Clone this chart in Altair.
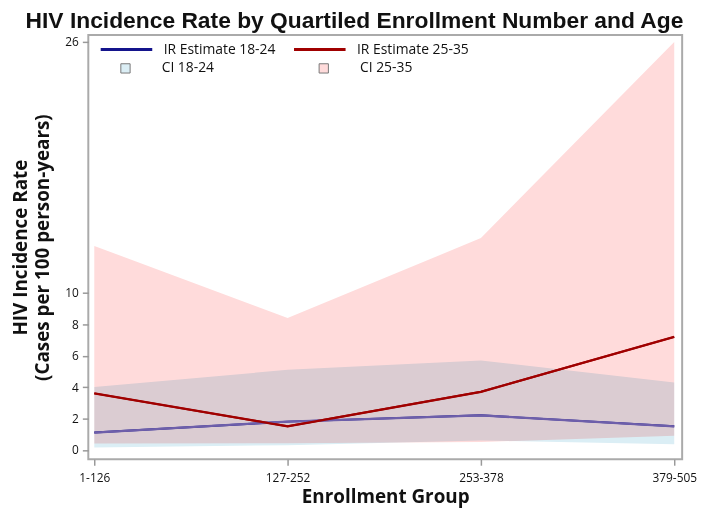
import json
import altair as alt
import pandas as pd

# ---- data ----
groups = ["1-126", "127-252", "253-378", "379-505"]
ir_1824 = [1.1, 1.8, 2.2, 1.5]
ir_2535 = [3.6, 1.5, 3.7, 7.2]
ci_1824_lo = [0.15, 0.3, 0.6, 0.35]
ci_1824_hi = [4.0, 5.1, 5.7, 4.3]
ci_2535_lo = [0.4, 0.42, 0.5, 0.9]
ci_2535_hi = [13.0, 8.4, 13.5, 26.0]
y_ticks = [0, 2, 4, 6, 8, 10, 26]

line_names = ["IR Estimate 18-24", "IR Estimate 25-35"]
ci_names = ["CI 18-24", "CI 25-35"]

idx = list(range(len(groups)))
n = len(groups)
lines = pd.DataFrame({
    "i": idx * 2,
    "group": groups * 2,
    "ir": ir_1824 + ir_2535,
    "series": [line_names[0]] * n + [line_names[1]] * n,
})
bands = pd.DataFrame({
    "i": idx * 2,
    "lo": ci_1824_lo + ci_2535_lo,
    "hi": ci_1824_hi + ci_2535_hi,
    "ci": [ci_names[0]] * n + [ci_names[1]] * n,
})

FONT = "Open Sans"
label_expr = json.dumps(groups) + "[datum.value]"

x_enc = alt.X(
    "i:Q",
    scale=alt.Scale(domain=[-0.031, 3.041], nice=False, zero=False),
    axis=alt.Axis(
        values=idx, labelExpr=label_expr, title="Enrollment Group",
        grid=False, domain=False, tickSize=6, tickColor="#999999", tickWidth=1.5,
        labelFont=FONT, labelFontSize=12, labelColor="#111111", labelPadding=7,
        titleFont=FONT, titleFontSize=19, titleFontWeight="bold", titlePadding=5,
        titleColor="#111111",
    ),
)

y_scale = alt.Scale(domain=[-0.6, 26.45], nice=False, zero=False)
y_axis = alt.Axis(
    values=y_ticks, title=["HIV Incidence Rate", "(Cases per 100 person-years)"],
    grid=False, domain=False, tickSize=6, tickColor="#999999", tickWidth=1.5,
    labelFont=FONT, labelFontSize=12, labelColor="#111111", labelPadding=4,
    titleFont=FONT, titleFontSize=19, titleFontWeight="bold", titlePadding=12,
    titleLineHeight=23, titleColor="#111111",
)

square_path = "M-0.18,-0.18H0.18V0.18H-0.18Z"

band_layer = alt.Chart(bands).mark_area(fillOpacity=1, blend="multiply").encode(
    x=x_enc,
    y=alt.Y("lo:Q", scale=y_scale, axis=y_axis),
    y2="hi:Q",
    fill=alt.Fill(
        "ci:N",
        scale=alt.Scale(domain=ci_names, range=["#dbeef5", "#ffdbdb"]),
        legend=alt.Legend(
            title=None, orient="none", legendX=11, legendY=7, direction="horizontal",
            symbolType=square_path, symbolSize=2704, symbolStrokeColor="#777777",
            symbolStrokeWidth=1, labelFont=FONT, labelFontSize=14, labelOffset=10,
            columnPadding=84, padding=0, labelColor="#111111",
        ),
    ),
)

line_layer = alt.Chart(lines).mark_line(strokeWidth=2.0).encode(
    x=x_enc,
    y=alt.Y("ir:Q", scale=y_scale, axis=y_axis),
    color=alt.Color(
        "series:N",
        scale=alt.Scale(domain=line_names, range=["#14148c", "#a00000"]),
        legend=alt.Legend(
            title=None, orient="none", legendX=11, legendY=-13, direction="horizontal",
            symbolType="stroke", symbolSize=2704, symbolStrokeWidth=3,
            labelFont=FONT, labelFontSize=14, labelOffset=10, columnPadding=12,
            padding=0, labelColor="#111111",
        ),
    ),
)

young_overlay = alt.Chart(lines).transform_filter(
    alt.datum.series == line_names[0]
).mark_line(strokeWidth=2.4, color="#6e5faa").encode(
    x=x_enc, y=alt.Y("ir:Q", scale=y_scale, axis=y_axis)
)

old_overlay = alt.Chart(lines).transform_filter(
    alt.datum.series == line_names[1]
).mark_line(strokeWidth=2.2, color="#a00000").encode(
    x=x_enc, y=alt.Y("ir:Q", scale=y_scale, axis=y_axis)
)

chart = alt.layer(band_layer, line_layer, young_overlay, old_overlay).properties(
    width=599,
    height=428,
    padding={"left": 81, "top": 25, "right": 18, "bottom": 49},
    autosize=alt.AutoSizeParams(type="none"),
    title=alt.TitleParams(
        "HIV Incidence Rate by Quartiled Enrollment Number and Age",
        font="Liberation Sans",
        fontSize=23, fontWeight="bold", anchor="middle", frame="group",
        dx=-31, dy=17, offset=6, color="#111111",
    ),
).configure_view(stroke="#aaaaaa", strokeWidth=2)

chart.save("out.html", embed_options={"renderer": "svg", "actions": False})
